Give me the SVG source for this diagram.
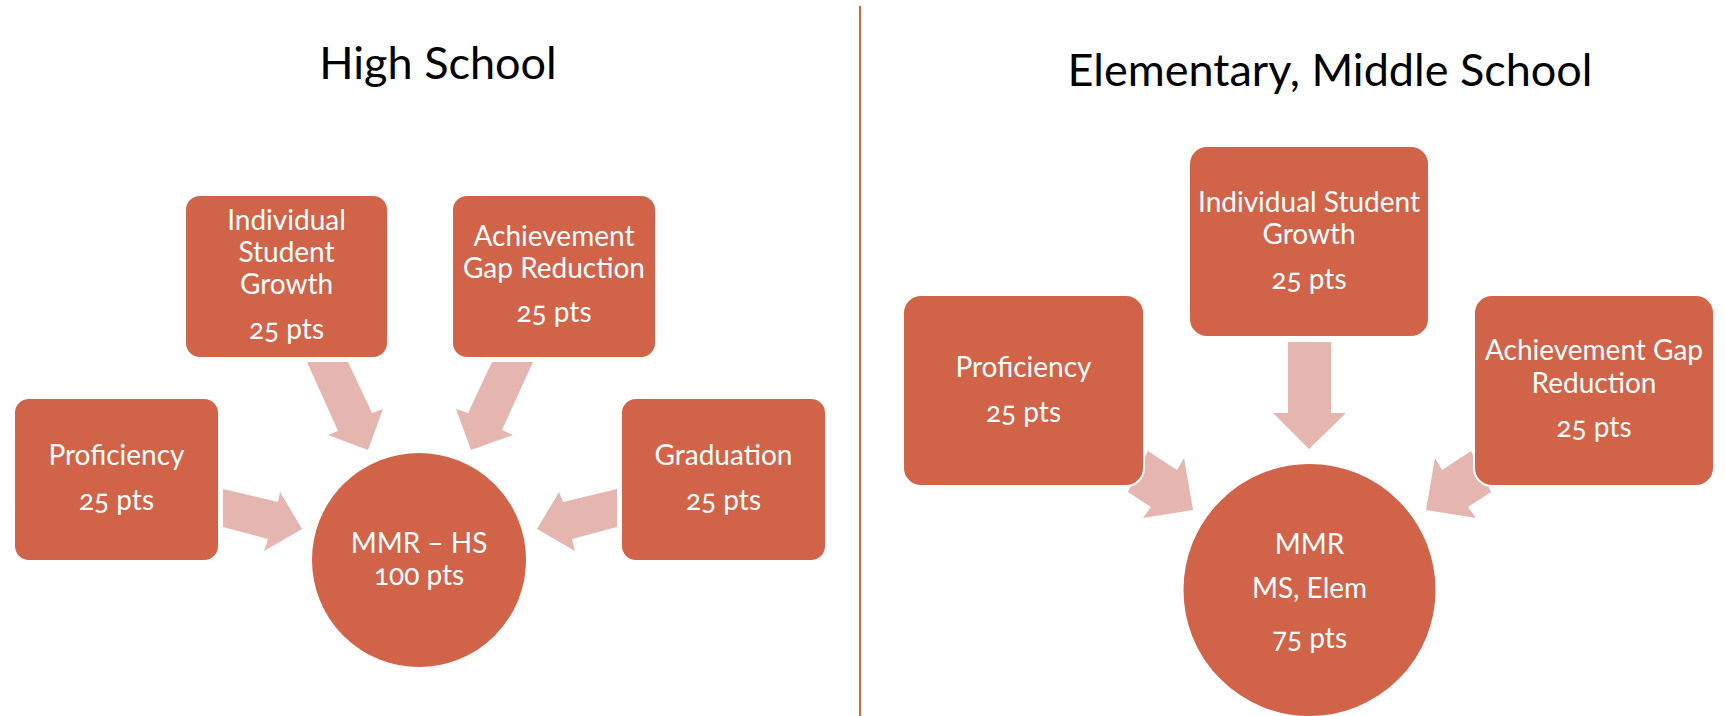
<svg xmlns="http://www.w3.org/2000/svg" width="1725" height="716" viewBox="0 0 1725 716">
  <style>
    .box { fill: #D16349; stroke: #FFFFFF; stroke-width: 2; }
    .arrow { fill: #E5B6B0; }
    .lbl { font-family: Lato, "Open Sans", "Liberation Sans", sans-serif; font-size: 28px; fill: #FFFFFF; text-anchor: middle; font-variant-numeric: oldstyle-nums; }
    .title { font-family: Lato, "Open Sans", "Liberation Sans", sans-serif; font-size: 45px; fill: #000000; text-anchor: middle; }
  </style>
  <rect width="1725" height="716" fill="#FFFFFF"/>
  <line x1="860" y1="6" x2="860" y2="716" stroke="#D16349" stroke-width="2"/>
  <text class="title" x="438" y="79">High School</text>
  <text class="title" x="1330" y="86">Elementary, Middle School</text>

  <g id="connectors">
    <polygon class="arrow" points="307,362 348,362 372,413 383,409 368,450 328,435 338,431"/>
    <polygon class="arrow" points="492,362 533,362 502,430 513,435 471,450 456,409 468,413"/>
    <polygon class="arrow" points="223,489 278,502 280,492 302,529 264,551 268,539 223,527"/>
    <polygon class="arrow" points="617,489 563,502 559,492 537,529 575,551 572,539 617,527"/>
    <polygon class="arrow" points="1288,342 1331,342 1331,413 1346,413 1309,449 1273,413 1288,413"/>
    <polygon class="arrow" points="1148,451 1177,470 1184,458 1193,510 1143,518 1151,507 1128,492"/>
    <polygon class="arrow" points="1471,451 1442,470 1435,458 1426,510 1476,518 1468,507 1491,492"/>
  </g>

  <g id="hs-growth">
    <rect class="box" x="185" y="195" width="203" height="163" rx="15"/>
    <text class="lbl" x="286.5" y="230">Individual</text>
    <text class="lbl" x="286.5" y="262">Student</text>
    <text class="lbl" x="286.5" y="294">Growth</text>
    <text class="lbl" x="286.5" y="339">25 pts</text>
  </g>
  <g id="hs-gap">
    <rect class="box" x="452" y="195" width="204" height="163" rx="15"/>
    <text class="lbl" x="554" y="246">Achievement</text>
    <text class="lbl" x="554" y="278">Gap Reduction</text>
    <text class="lbl" x="554" y="322">25 pts</text>
  </g>
  <g id="hs-proficiency">
    <rect class="box" x="14" y="398" width="205" height="163" rx="15"/>
    <text class="lbl" x="116.5" y="465">Proficiency</text>
    <text class="lbl" x="116.5" y="510">25 pts</text>
  </g>
  <g id="hs-graduation">
    <rect class="box" x="621" y="398" width="205" height="163" rx="15"/>
    <text class="lbl" x="723.5" y="465">Graduation</text>
    <text class="lbl" x="723.5" y="510">25 pts</text>
  </g>
  <g id="hs-mmr">
    <circle class="box" cx="419" cy="560" r="108"/>
    <text class="lbl" x="419" y="553">MMR – HS</text>
    <text class="lbl" x="419" y="585">100 pts</text>
  </g>

  <g id="es-growth">
    <rect class="box" x="1189" y="146" width="240" height="191" rx="18"/>
    <text class="lbl" x="1309" y="212">Individual Student</text>
    <text class="lbl" x="1309" y="244">Growth</text>
    <text class="lbl" x="1309" y="289">25 pts</text>
  </g>
  <g id="es-proficiency">
    <rect class="box" x="903" y="295" width="241" height="191" rx="18"/>
    <text class="lbl" x="1023.5" y="377">Proficiency</text>
    <text class="lbl" x="1023.5" y="422">25 pts</text>
  </g>
  <g id="es-gap">
    <rect class="box" x="1474" y="295" width="240" height="191" rx="18"/>
    <text class="lbl" x="1594" y="360">Achievement Gap</text>
    <text class="lbl" x="1594" y="393">Reduction</text>
    <text class="lbl" x="1594" y="437">25 pts</text>
  </g>
  <g id="es-mmr">
    <circle class="box" cx="1309.5" cy="590" r="127"/>
    <text class="lbl" x="1309.5" y="554">MMR</text>
    <text class="lbl" x="1309.5" y="598">MS, Elem</text>
    <text class="lbl" x="1309.5" y="648">75 pts</text>
  </g>
</svg>
